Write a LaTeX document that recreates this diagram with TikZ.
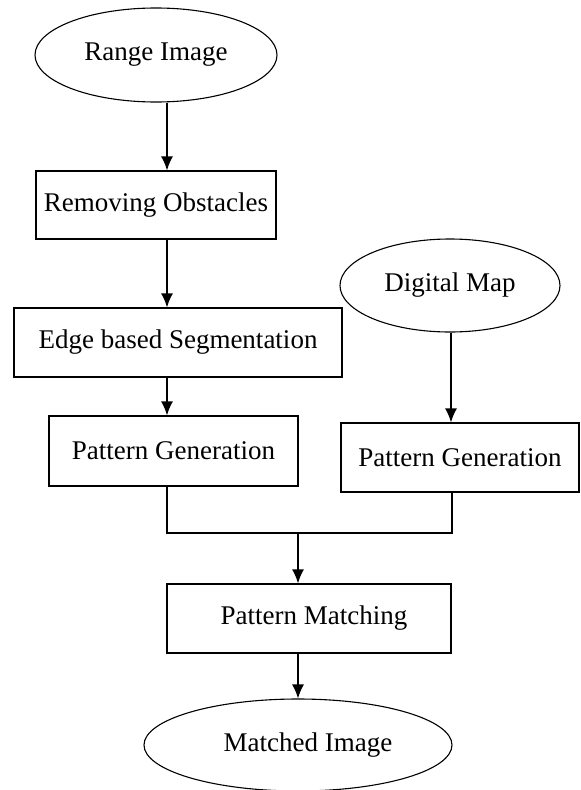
\documentclass[tikz,border=0pt]{standalone}
\usepackage{fontspec}
\setmainfont{Liberation Serif}
\usetikzlibrary{shapes.geometric,arrows.meta}
\begin{document}
\begin{tikzpicture}[x=1pt,y=-1pt,
    every node/.style={font=\fontsize{27}{32}\selectfont,inner sep=0pt},
    oval/.style={shape=ellipse,draw=black,line width=1.1pt},
    stepbox/.style={shape=rectangle,draw=black,line width=1.3pt},
    flow/.style={-{Latex[length=14pt,width=12pt]},line width=1.3pt}]
  \useasboundingbox (0,0) rectangle (581,790);
  \node[oval,minimum width=242pt,minimum height=94pt] (range) at (156,55) {Range Image};
  \node[stepbox,minimum width=240pt,minimum height=68pt] (remove) at (156,205) {Removing Obstacles};
  \node[stepbox,minimum width=328pt,minimum height=69pt] (edge) at (178,342.5) {Edge based Segmentation};
  \node[stepbox,minimum width=249pt,minimum height=70pt] (pgenl) at (173.5,451) {Pattern Generation};
  \node[oval,minimum width=220pt,minimum height=93pt] (dmap) at (450,285.5) {Digital Map};
  \node[stepbox,minimum width=238pt,minimum height=69pt] (pgenr) at (460,457.5) {Pattern Generation};
  \node[stepbox,minimum width=284pt,minimum height=69pt] (match) at (309,618.5) {\hspace*{10pt}Pattern Matching};
  \node[oval,minimum width=308pt,minimum height=92pt] (result) at (298,745) {\hspace*{20pt}Matched Image};
  \coordinate (join) at (298,533);
  \draw[flow] ([xshift=11pt]range.south) -- ([xshift=11pt]remove.north);
  \draw[flow] ([xshift=11pt]remove.south) -- ([xshift=-11pt]edge.north);
  \draw[flow] ([xshift=-11pt]edge.south) -- ([xshift=-6.5pt]pgenl.north);
  \draw[flow] ([xshift=1pt]dmap.south) -- ([xshift=-9pt]pgenr.north);
  \draw[line width=1.3pt] ([xshift=-6.5pt]pgenl.south) |- (join) -| ([xshift=-8pt]pgenr.south);
  \draw[flow] (join) -- ([xshift=-11pt]match.north);
  \draw[flow] ([xshift=-11pt]match.south) -- (result.north);
\end{tikzpicture}
\end{document}
